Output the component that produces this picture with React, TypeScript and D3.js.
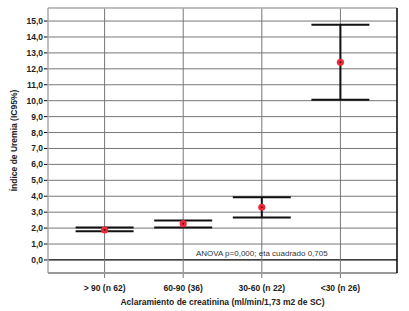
import React from "react";
import * as d3 from "d3";

const categories = ["> 90 (n 62)", "60-90 (36)", "30-60 (n 22)", "<30 (n 26)"];
const means = [1.88, 2.28, 3.31, 12.41];
const lowers = [1.8, 2.03, 2.66, 10.06];
const uppers = [2.03, 2.47, 3.94, 14.77];
const yTicks = d3.range(0, 16, 1);

const W = 409;
const H = 311;
const M = { left: 48, right: 12, top: 8, bottom: 38 };

export default function App() {
  const x = d3
    .scalePoint<string>()
    .domain(categories)
    .range([M.left, W - M.right])
    .padding(0.72);
  const y = d3.scaleLinear().domain([-0.82, 15.82]).range([H - M.bottom, M.top]);
  const x0 = M.left;
  const x1 = W - M.right;
  const y0 = M.top;
  const y1 = H - M.bottom;
  const cap = 29;
  const font = "Liberation Sans, Arial, sans-serif";
  const fmt = (v: number) => v.toFixed(1).replace(".", ",");
  return (
    <svg
      width={W}
      height={H}
      style={{ position: "absolute", left: 0, top: 0, background: "#fff" }}
      fontFamily={font}
    >
      {yTicks.map((t) => (
        <g key={t}>
          <line
            x1={x0}
            x2={x1}
            y1={y(t)}
            y2={y(t)}
            stroke={t === 0 ? "#000" : "#777"}
            strokeWidth={t === 0 ? 1.2 : 1}
          />
          <line x1={x0 - 4} x2={x0} y1={y(t)} y2={y(t)} stroke="#000" />
          <text
            x={x0 - 5}
            y={y(t)}
            dy="0.35em"
            textAnchor="end"
            fontSize={8.5}
            fontWeight="bold"
            fill="#222"
          >
            {fmt(t)}
          </text>
        </g>
      ))}
      {categories.map((c) => (
        <g key={c}>
          <line x1={x(c)} x2={x(c)} y1={y0} y2={y1 + 5} stroke="#777" />
          <text
            x={x(c)}
            y={y1 + 18}
            textAnchor="middle"
            fontSize={8.5}
            fontWeight="bold"
            fill="#222"
          >
            {c}
          </text>
        </g>
      ))}
      {/* frame */}
      <line x1={x0} x2={x1} y1={y0} y2={y0} stroke="#aaa" strokeWidth={1.5} />
      <line x1={x0} x2={x0} y1={y0} y2={y1} stroke="#aaa" strokeWidth={1.5} />
      <line x1={x0} x2={x1} y1={y1} y2={y1} stroke="#999" strokeWidth={2} />
      <line x1={x1} x2={x1} y1={y0} y2={y1} stroke="#000" strokeWidth={1.5} />
      <text
        x={x(categories[2])}
        y={y(0) - 4}
        textAnchor="middle"
        fontSize={8}
        fill="#333"
      >
        ANOVA p=0,000; eta cuadrado 0,705
      </text>
      {categories.map((c, i) => {
        const cx = x(c) as number;
        return (
          <g key={"e" + c}>
            <line x1={cx} x2={cx} y1={y(lowers[i])} y2={y(uppers[i])} stroke="#111" strokeWidth={2} />
            <line x1={cx - cap} x2={cx + cap} y1={y(uppers[i])} y2={y(uppers[i])} stroke="#111" strokeWidth={2} />
            <line x1={cx - cap} x2={cx + cap} y1={y(lowers[i])} y2={y(lowers[i])} stroke="#111" strokeWidth={2} />
            <circle cx={cx} cy={y(means[i])} r={3.6} fill="#ee2a3a" />
            <circle cx={cx} cy={y(means[i])} r={1} fill="#5a1010" />
          </g>
        );
      })}
      <text
        x={(x0 + x1) / 2}
        y={H - 6}
        textAnchor="middle"
        fontSize={8.5}
        fontWeight="bold"
        fill="#222"
      >
        Aclaramiento de creatinina (ml/min/1,73 m2 de SC)
      </text>
      <text
        transform={`translate(17,${(y0 + y1) / 2}) rotate(-90)`}
        textAnchor="middle"
        fontSize={8.5}
        fontWeight="bold"
        fill="#222"
      >
        Índice de Uremia (IC95%)
      </text>
    </svg>
  );
}
